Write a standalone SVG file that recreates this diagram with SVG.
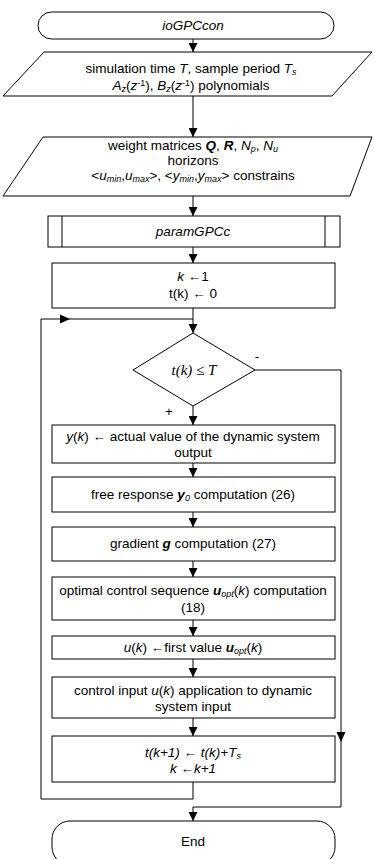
<svg xmlns="http://www.w3.org/2000/svg" width="374" height="859" viewBox="0 0 374 859">
<style>
.s{fill:#fff;stroke:#000;stroke-width:1}
.l{fill:none;stroke:#000;stroke-width:1}
.t{font-family:"Liberation Sans",Arial,sans-serif;font-size:13.5px;fill:#000;text-anchor:middle}
.m{font-family:"Liberation Serif","Times New Roman",serif;font-size:15px;font-style:italic;fill:#000;text-anchor:middle}
.i{font-style:italic}
.b{font-weight:bold;font-style:italic}
.sb{font-size:9px}
.h{fill:#000}
</style>
<defs>
<marker id="a" viewBox="0 0 10 10" refX="10" refY="5" markerWidth="9" markerHeight="9" markerUnits="userSpaceOnUse" orient="auto">
<path d="M0,0 L10,5 L0,10 Z" fill="#000"/>
</marker>
</defs>
<rect width="374" height="859" fill="#fff"/>
<g id="connectors">
<line class="l" x1="193" y1="39" x2="193" y2="52" marker-end="url(#a)"/>
<line class="l" x1="193" y1="96" x2="193" y2="137" marker-end="url(#a)"/>
<line class="l" x1="193" y1="196" x2="193" y2="216" marker-end="url(#a)"/>
<line class="l" x1="193" y1="247" x2="193" y2="263" marker-end="url(#a)"/>
<line class="l" x1="193" y1="308" x2="193" y2="333" marker-end="url(#a)"/>
<polyline class="l" points="193,782 193,799 41,799 41,319 193,319"/>
<polygon class="h" points="60,314.5 70,319 60,323.5"/>
<line class="l" x1="193" y1="406" x2="193" y2="425" marker-end="url(#a)"/>
<polyline class="l" points="255,370 341,370 341,807 193,807 193,821" marker-end="url(#a)"/>
<polygon class="h" points="336.5,732 341,742 345.5,732"/>
<line class="l" x1="193" y1="463" x2="193" y2="477" marker-end="url(#a)"/>
<line class="l" x1="193" y1="512" x2="193" y2="527" marker-end="url(#a)"/>
<line class="l" x1="193" y1="561" x2="193" y2="577" marker-end="url(#a)"/>
<line class="l" x1="193" y1="620" x2="193" y2="636" marker-end="url(#a)"/>
<line class="l" x1="193" y1="659" x2="193" y2="677" marker-end="url(#a)"/>
<line class="l" x1="193" y1="718" x2="193" y2="736" marker-end="url(#a)"/>
<text class="t" x="257" y="361">-</text>
<text class="t" x="169" y="416">+</text>
</g>
<g id="start">
<rect class="s" x="38" y="12" width="296" height="27" rx="13.5"/>
<text class="t i" x="193" y="30">ioGPCcon</text>
</g>
<g id="input1">
<polygon class="s" points="44,52 372,52 332,96 3,96"/>
<text class="t" x="191" y="73">simulation time <tspan class="i">T</tspan>, sample period <tspan class="i">T</tspan><tspan class="sb i" dy="2">s</tspan></text>
<text class="t" x="191" y="90"><tspan class="i">A</tspan><tspan class="sb i" dy="2">z</tspan><tspan dy="-2">(</tspan><tspan class="i">z</tspan><tspan class="sb" dy="-4">-1</tspan><tspan dy="4">), </tspan><tspan class="i">B</tspan><tspan class="sb i" dy="2">z</tspan><tspan dy="-2">(</tspan><tspan class="i">z</tspan><tspan class="sb" dy="-4">-1</tspan><tspan dy="4">) polynomials</tspan></text>
</g>
<g id="input2">
<polygon class="s" points="43,137 372,137 350,196 3,196"/>
<text class="t" x="193" y="150">weight matrices <tspan class="b">Q</tspan>, <tspan class="b">R</tspan>, <tspan class="i">N</tspan><tspan class="sb i" dy="2">p</tspan><tspan dy="-2">, </tspan><tspan class="i">N</tspan><tspan class="sb i" dy="2">u</tspan></text>
<text class="t" x="193" y="165">horizons</text>
<text class="t" x="193" y="180">&lt;<tspan class="i">u</tspan><tspan class="sb i" dy="2">min</tspan><tspan dy="-2">,</tspan><tspan class="i">u</tspan><tspan class="sb i" dy="2">max</tspan><tspan dy="-2">&gt;, &lt;</tspan><tspan class="i">y</tspan><tspan class="sb i" dy="2">min</tspan><tspan dy="-2">,</tspan><tspan class="i">y</tspan><tspan class="sb i" dy="2">max</tspan><tspan dy="-2">&gt; constrains</tspan></text>
</g>
<g id="subroutine">
<rect class="s" x="48" y="216" width="292" height="31"/>
<line class="l" x1="62" y1="216" x2="62" y2="247"/>
<line class="l" x1="325" y1="216" x2="325" y2="247"/>
<text class="t i" x="193" y="236">paramGPCc</text>
</g>
<g id="init">
<rect class="s" x="52" y="263" width="283" height="45"/>
<text class="t" x="193" y="281"><tspan class="i">k</tspan> ←1</text>
<text class="t" x="193" y="298">t(k) ← 0</text>
</g>
<g id="decision">
<polygon class="s" points="193,333 255,370 193,406 133,370"/>
<text class="m" x="194" y="375">t(k) ≤ T</text>
</g>
<g id="measure">
<rect class="s" x="52" y="425" width="283" height="38"/>
<text class="t" x="193" y="441"><tspan class="i">y</tspan>(<tspan class="i">k</tspan>) ← actual value of the dynamic system</text>
<text class="t" x="193" y="457">output</text>
</g>
<g id="free">
<rect class="s" x="52" y="477" width="283" height="35"/>
<text class="t" x="193" y="499">free response <tspan class="b">y</tspan><tspan class="sb i" dy="2">0</tspan><tspan dy="-2"> computation (26)</tspan></text>
</g>
<g id="gradient">
<rect class="s" x="52" y="527" width="283" height="34"/>
<text class="t" x="193" y="548">gradient <tspan class="b">g</tspan> computation (27)</text>
</g>
<g id="optimal">
<rect class="s" x="52" y="577" width="283" height="43"/>
<text class="t" x="193" y="595">optimal control sequence <tspan class="b">u</tspan><tspan class="sb i" dy="2">opt</tspan><tspan dy="-2">(</tspan><tspan class="i">k</tspan>) computation</text>
<text class="t" x="193" y="612">(18)</text>
</g>
<g id="first">
<rect class="s" x="52" y="636" width="283" height="23"/>
<text class="t" x="193" y="652"><tspan class="i">u</tspan>(<tspan class="i">k</tspan>) ←first value <tspan class="b">u</tspan><tspan class="sb i" dy="2">opt</tspan><tspan dy="-2">(</tspan><tspan class="i">k</tspan>)</text>
</g>
<g id="apply">
<rect class="s" x="52" y="677" width="283" height="41"/>
<text class="t" x="193" y="695">control input <tspan class="i">u</tspan>(<tspan class="i">k</tspan>) application to dynamic</text>
<text class="t" x="193" y="711">system input</text>
</g>
<g id="update">
<rect class="s" x="52" y="736" width="283" height="46"/>
<text class="t i" x="193" y="757">t(k+1) ← t(k)+T<tspan class="sb" dy="2">s</tspan></text>
<text class="t i" x="193" y="773">k ←k+1</text>
</g>
<g id="end">
<rect class="s" x="52" y="821" width="283" height="44" rx="18"/>
<text class="t" x="193" y="846">End</text>
</g>
</svg>
